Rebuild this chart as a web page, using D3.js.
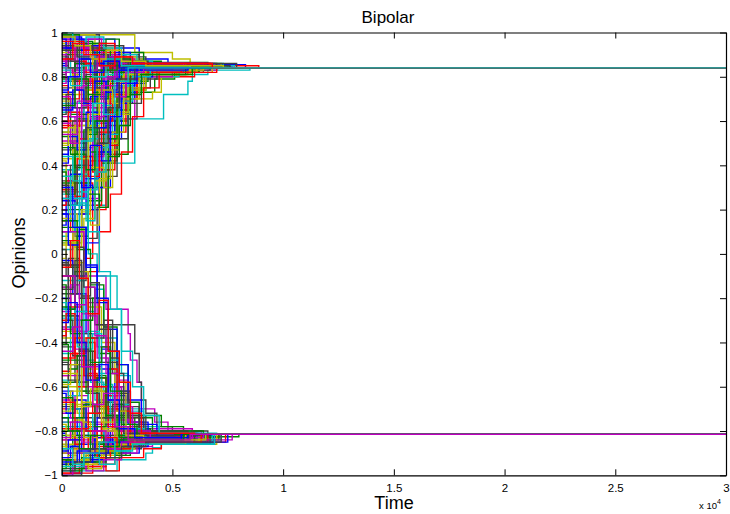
<!DOCTYPE html>
<html>
<head>
<meta charset="utf-8">
<script src="https://cdn.jsdelivr.net/npm/d3@7"></script>
<style>
  html, body { margin: 0; padding: 0; background: #fff; }
  svg { display: block; font-family: "Liberation Sans", Arial, Helvetica, sans-serif; }
</style>
</head>
<body>
<svg id="chart" width="730" height="514"></svg>
<script>
// Opinion trajectories of the agents (bounded-confidence "Bipolar" run).
// Each agent: [initial opinion, t1, v1, t2, v2, ..., tJoin]
// times are in hundreds of steps; at tJoin the agent settles on its cluster value.
const upperConsensus = 0.84;
const lowerConsensus = -0.815;
const timeEnd = 30000;
const timeUnit = 100;

const upperAgents = [
  [0.97, 24, 0.93, 35, 0.88, 48, 0.855, 83],
  [0.55, 4, 0.68, 11, 0.78, 19, 0.82, 30, 0.86, 62],
  [0.9, 10, 0.86, 40, 0.85, 89],
  [0.05, 8, 0.22, 20, 0.41, 33, 0.61, 46, 0.72, 57, 0.78, 59, 0.81, 66, 0.83, 85],
  [0.62, 6, 0.48, 14, 0.66, 22, 0.8, 31, 0.83, 70],
  [0.99, 33, 0.91, 50, 0.88, 58, 0.86, 72],
  [0.3, 5, 0.5, 12, 0.6, 28, 0.61, 34, 0.75, 40, 0.82, 64],
  [0.85, 3, 0.92, 9, 0.88, 18, 0.8, 27, 0.83, 58],
  [0.2, 15, 0.45, 30, 0.73, 42, 0.79, 51, 0.82, 62],
  [0.15, 6, 0.32, 14, 0.22, 18, 0.5, 26, 0.7, 34, 0.8, 60],
  [0.95, 7, 0.9, 16, 0.87, 26, 0.85, 55],
  [0.4, 10, 0.25, 17, 0.5, 22, 0.61, 33, 0.74, 37, 0.82, 61],
  [0.35, 12, 0.52, 25, 0.7, 41, 0.73, 45, 0.8, 52, 0.82, 68],
  [0.75, 5, 0.82, 13, 0.86, 24, 0.84, 52],
  [0.45, 3, 0.62, 9, 0.4, 14, 0.68, 20, 0.78, 30, 0.83, 57],
  [0.92, 12, 0.95, 20, 0.89, 29, 0.86, 40, 0.865, 66],
  [0.1, 4, 0.28, 9, 0.18, 13, 0.42, 20, 0.58, 25, 0.75, 34, 0.82, 59],
  [0.68, 8, 0.77, 15, 0.9, 21, 0.86, 33, 0.85, 74],
  [0.88, 6, 0.79, 11, 0.93, 19, 0.87, 30, 0.84, 56],
  [0.5, 7, 0.35, 11, 0.6, 17, 0.72, 26, 0.84, 48],
  [0.98, 4, 0.94, 14, 0.9, 22, 0.86, 63],
  [0.25, 10, 0.55, 18, 0.38, 22, 0.63, 29, 0.77, 38, 0.83, 58],
  [0.8, 9, 0.7, 16, 0.83, 24, 0.88, 32, 0.85, 70],
  [0.6, 12, 0.74, 20, 0.66, 27, 0.79, 35, 0.84, 66],
  [0.02, 5, 0.12, 12, 0.3, 19, 0.46, 23, 0.65, 28, 0.8, 53],
  [0.94, 3, 0.84, 10, 0.9, 18, 0.87, 27, 0.845, 77],
  [0.72, 14, 0.8, 25, 0.88, 37, 0.86, 64],
  [0.33, 6, 0.47, 13, 0.62, 21, 0.55, 26, 0.72, 32, 0.83, 55],
  [0.86, 2, 0.96, 11, 0.92, 19, 0.88, 28, 0.85, 69],
  [-0.1, 7, 0.08, 12, 0.24, 18, 0.41, 24, 0.6, 30, 0.74, 38, 0.82, 62],
  [0.58, 9, 0.7, 17, 0.82, 28, 0.86, 57],
  [0.78, 4, 0.89, 12, 0.83, 20, 0.9, 29, 0.86, 73],
  [0.2, 3, 0.38, 8, 0.52, 14, 0.44, 19, 0.68, 25, 0.8, 50],
  [0.91, 15, 0.87, 24, 0.83, 33, 0.85, 63],
  [0.47, 5, 0.6, 10, 0.75, 18, 0.85, 52],
  [0.66, 7, 0.55, 13, 0.71, 21, 0.79, 27, 0.83, 55],
  [0.12, 9, 0.3, 16, 0.5, 21, 0.42, 25, 0.65, 31, 0.78, 39, 0.83, 60],
  [0.84, 5, 0.78, 14, 0.88, 23, 0.85, 65],
  [0.38, 8, 0.58, 15, 0.7, 23, 0.84, 47],
  [0.97, 9, 0.9, 18, 0.84, 25, 0.87, 36, 0.85, 71],
  [0.55, 14, 0.72, 22, 0.81, 33, 0.84, 58],
  [0.28, 4, 0.4, 11, 0.34, 16, 0.57, 22, 0.73, 29, 0.83, 54],
  [0.73, 6, 0.86, 16, 0.8, 24, 0.85, 61],
  [0.9, 8, 0.96, 14, 0.91, 24, 0.87, 37, 0.85, 76],
  [-0.05, 5, 0.1, 10, -0.02, 14, 0.2, 20, 0.38, 24, 0.55, 29, 0.72, 34, 0.81, 57],
  [0.64, 10, 0.76, 18, 0.87, 28, 0.84, 68],
  [0.82, 7, 0.74, 15, 0.82, 22, 0.89, 31, 0.86, 65],
  [0.43, 6, 0.58, 12, 0.74, 20, 0.69, 25, 0.81, 34, 0.84, 56],
  [0.99, 17, 0.94, 28, 0.89, 38, 0.86, 79],
  [0.18, 11, 0.34, 17, 0.54, 24, 0.68, 32, 0.82, 55],
  [0.7, 4, 0.63, 12, 0.77, 19, 0.84, 49],
  [0.87, 11, 0.82, 18, 0.91, 26, 0.86, 67],
  [0.08, 3, 0.26, 9, 0.44, 15, 0.64, 22, 0.76, 29, 0.84, 53],
  [0.51, 8, 0.66, 16, 0.59, 22, 0.76, 30, 0.84, 59],
  [0.95, 5, 0.99, 15, 0.93, 23, 0.89, 34, 0.85, 74],
  [0.6, 3, 0.78, 10, 0.86, 20, 0.84, 51],
  [-0.25, 6, -0.1, 11, 0.05, 17, 0.3, 22, 0.52, 27, 0.7, 33, 0.8, 41, 0.83, 62],
  [0.32, 13, 0.46, 19, 0.64, 26, 0.78, 35, 0.83, 58],
  [0.93, 6, 0.86, 13, 0.82, 21, 0.86, 30, 0.84, 63],
  [0.22, 7, 0.4, 12, 0.56, 17, 0.72, 23, 0.81, 32, 0.84, 56],
  [0.96, 3, 0.91, 7, 0.95, 12, 0.89, 18, 0.92, 26, 0.87, 35, 0.85, 68],
  [0.42, 2, 0.31, 5, 0.47, 9, 0.36, 13, 0.58, 17, 0.49, 21, 0.71, 27, 0.8, 36, 0.83, 58],
  [0.81, 2, 0.88, 6, 0.83, 10, 0.77, 15, 0.86, 22, 0.82, 31, 0.85, 61],
  [0.13, 2, 0.24, 6, 0.08, 9, 0.31, 14, 0.2, 17, 0.46, 22, 0.61, 27, 0.76, 33, 0.83, 57],
  [0.99, 8, 0.95, 20, 0.97, 26, 0.91, 37, 0.87, 45, 0.85, 75],
  [0.57, 3, 0.64, 8, 0.52, 12, 0.69, 17, 0.6, 22, 0.77, 28, 0.85, 54],
  [0.27, 4, 0.15, 8, 0.36, 12, 0.29, 16, 0.48, 21, 0.66, 26, 0.58, 30, 0.78, 36, 0.83, 59],
  [0.9, 2, 0.83, 7, 0.9, 11, 0.94, 16, 0.88, 23, 0.84, 30, 0.86, 64],
  [0.69, 5, 0.81, 9, 0.74, 14, 0.89, 20, 0.83, 27, 0.86, 56],
  [-0.15, 3, -0.02, 8, -0.12, 11, 0.07, 16, 0.21, 21, 0.35, 25, 0.52, 30, 0.68, 36, 0.79, 43, 0.83, 67],
  [0.93, 4, 0.98, 9, 0.92, 15, 0.86, 21, 0.9, 28, 0.87, 36, 0.845, 72],
  [0.48, 6, 0.39, 10, 0.56, 14, 0.73, 19, 0.65, 23, 0.82, 31, 0.85, 60],
  [0.76, 3, 0.7, 8, 0.79, 14, 0.72, 19, 0.84, 26, 0.87, 34, 0.85, 63],
  [0.35, 5, 0.44, 9, 0.28, 12, 0.52, 18, 0.67, 23, 0.61, 27, 0.76, 32, 0.84, 55],
  [0.87, 6, 0.93, 12, 0.97, 18, 0.9, 25, 0.88, 33, 0.86, 69],
  [0.04, 3, 0.18, 7, -0.04, 10, 0.16, 15, 0.33, 20, 0.5, 25, 0.64, 30, 0.75, 37, 0.82, 61],
  [0.63, 2, 0.72, 6, 0.66, 11, 0.81, 16, 0.75, 21, 0.86, 28, 0.84, 58],
  [0.97, 2, 0.93, 5, 0.97, 10, 0.94, 17, 0.89, 24, 0.91, 31, 0.86, 66],
  [0.53, 4, 0.45, 7, 0.61, 12, 0.54, 16, 0.7, 21, 0.79, 27, 0.84, 52],
  [0.22, 2, 0.33, 6, 0.26, 10, 0.44, 14, 0.37, 18, 0.6, 23, 0.72, 29, 0.82, 54],
  [0.84, 8, 0.9, 15, 0.85, 21, 0.81, 29, 0.84, 57],
  [0.71, 4, 0.62, 9, 0.76, 13, 0.85, 18, 0.79, 24, 0.86, 33, 0.84, 62],
  [0.16, 5, 0.05, 9, 0.2, 13, 0.39, 19, 0.3, 23, 0.55, 28, 0.7, 35, 0.81, 58],
  [0.94, 7, 0.89, 13, 0.93, 20, 0.88, 27, 0.9, 35, 0.86, 70],
  [0.41, 3, 0.53, 7, 0.47, 11, 0.64, 16, 0.57, 20, 0.74, 25, 0.83, 50],
  [0.79, 6, 0.86, 10, 0.8, 16, 0.92, 22, 0.87, 29, 0.85, 65],
  [0.29, 7, 0.43, 12, 0.35, 17, 0.55, 22, 0.49, 26, 0.69, 31, 0.8, 38, 0.84, 62],
  [1.0, 5, 0.96, 11, 0.98, 19, 0.93, 27, 0.9, 34, 0.87, 41, 0.85, 78],
  [0.59, 4, 0.5, 9, 0.67, 14, 0.62, 19, 0.8, 25, 0.87, 33, 0.85, 60],
  [-0.02, 2, 0.1, 6, 0.03, 9, 0.19, 13, 0.13, 17, 0.34, 22, 0.47, 26, 0.63, 31, 0.74, 38, 0.83, 64],
  [0.89, 3, 0.84, 9, 0.88, 15, 0.83, 23, 0.86, 53],
  [0.65, 5, 0.74, 10, 0.68, 15, 0.78, 20, 0.73, 26, 0.83, 34, 0.85, 61],
  [0.37, 2, 0.27, 6, 0.45, 11, 0.38, 15, 0.6, 21, 0.52, 25, 0.71, 31, 0.81, 56],
  [0.96, 10, 0.92, 17, 0.95, 24, 0.89, 31, 0.86, 67],
  [0.1, 6, 0.23, 11, 0.15, 15, 0.37, 20, 0.54, 26, 0.69, 32, 0.8, 40, 0.84, 63],
  [0.77, 2, 0.82, 6, 0.75, 10, 0.83, 16, 0.89, 24, 0.86, 55],
  [0.49, 3, 0.57, 8, 0.43, 12, 0.63, 17, 0.74, 23, 0.68, 28, 0.81, 35, 0.84, 59],
  [0.92, 4, 0.87, 8, 0.94, 14, 0.9, 21, 0.85, 30, 0.87, 39, 0.85, 76],
  [0.24, 4, 0.36, 9, 0.3, 13, 0.49, 18, 0.42, 22, 0.62, 27, 0.77, 34, 0.83, 57],
  [0.67, 6, 0.79, 12, 0.72, 18, 0.83, 25, 0.88, 31, 0.85, 62],
  [-0.3, 4, -0.18, 9, -0.26, 12, -0.08, 17, 0.1, 22, 0.27, 27, 0.46, 32, 0.62, 37, 0.75, 44, 0.82, 70],
  [0.83, 4, 0.76, 9, 0.85, 14, 0.8, 20, 0.88, 27, 0.85, 58],
  [0.54, 7, 0.69, 13, 0.61, 18, 0.76, 24, 0.71, 29, 0.82, 37, 0.84, 64],
  [0.98, 6, 0.94, 13, 0.88, 20, 0.92, 27, 0.87, 38, 0.85, 73],
  [0.31, 3, 0.22, 7, 0.4, 11, 0.57, 17, 0.5, 21, 0.66, 26, 0.79, 33, 0.84, 56],
  [0.74, 3, 0.8, 8, 0.88, 13, 0.82, 19, 0.87, 26, 0.84, 54],
  [0.06, 4, -0.06, 8, 0.11, 12, 0.27, 17, 0.21, 21, 0.44, 26, 0.58, 31, 0.72, 36, 0.81, 59],
  [0.88, 5, 0.95, 10, 0.9, 17, 0.85, 24, 0.89, 32, 0.86, 68],
  [0.44, 5, 0.33, 9, 0.51, 14, 0.68, 19, 0.63, 24, 0.78, 30, 0.84, 57]
];

const lowerAgents = [
  [0.1, 10, -0.1, 20, -0.25, 30, -0.36, 31, -0.48, 34, -0.58, 36, -0.7, 42, -0.76, 48, -0.8, 63],
  [-0.6, 7, -0.72, 15, -0.8, 26, -0.86, 34, -0.83, 62],
  [-0.05, 8, -0.2, 17, -0.32, 33, -0.45, 35, -0.58, 36, -0.66, 38, -0.72, 43, -0.78, 50, -0.8, 66],
  [-0.9, 8, -0.86, 20, -0.84, 35, -0.826, 68],
  [-0.4, 10, -0.55, 20, -0.66, 30, -0.73, 45, -0.78, 55, -0.826, 80],
  [-0.7, 9, -0.78, 18, -0.83, 30, -0.848, 58],
  [-0.98, 25, -0.93, 38, -0.9, 41, -0.875, 45, -0.85, 52, -0.83, 64],
  [-0.15, 6, -0.3, 12, -0.22, 16, -0.42, 22, -0.6, 28, -0.72, 35, -0.79, 59],
  [-0.95, 10, -0.9, 22, -0.87, 33, -0.84, 61],
  [-0.5, 8, -0.62, 16, -0.74, 24, -0.8, 52],
  [-0.2, 4, -0.35, 10, -0.5, 18, -0.43, 22, -0.64, 29, -0.76, 37, -0.82, 63],
  [-0.8, 5, -0.9, 13, -0.94, 20, -0.88, 30, -0.85, 60],
  [-0.99, 14, -0.95, 24, -0.9, 31, -0.86, 40, -0.83, 71],
  [0.25, 12, 0.0, 16, -0.1, 25, -0.25, 27, -0.54, 30, -0.7, 36, -0.78, 44, -0.81, 60],
  [-0.72, 6, -0.64, 12, -0.76, 19, -0.84, 28, -0.82, 54],
  [-0.35, 9, -0.5, 14, -0.62, 21, -0.75, 28, -0.84, 37, -0.83, 66],
  [-0.88, 3, -0.95, 11, -0.91, 19, -0.86, 29, -0.83, 57],
  [-0.03, 5, -0.18, 11, -0.36, 17, -0.52, 24, -0.68, 30, -0.77, 37, -0.82, 62],
  [-0.58, 12, -0.68, 20, -0.73, 31, -0.79, 40, -0.84, 70],
  [-0.93, 6, -0.97, 12, -0.92, 20, -0.87, 30, -0.84, 61],
  [-0.45, 4, -0.3, 9, -0.48, 15, -0.66, 22, -0.78, 30, -0.83, 55],
  [-0.76, 9, -0.83, 18, -0.78, 26, -0.85, 36, -0.83, 67],
  [0.05, 6, -0.08, 12, -0.24, 18, -0.4, 24, -0.58, 29, -0.74, 36, -0.81, 60],
  [-0.97, 18, -0.92, 27, -0.88, 36, -0.85, 65],
  [-0.62, 5, -0.7, 11, -0.8, 19, -0.89, 26, -0.85, 56],
  [-0.28, 8, -0.44, 15, -0.56, 21, -0.71, 27, -0.73, 35, -0.8, 42, -0.83, 69],
  [-0.84, 4, -0.79, 10, -0.88, 17, -0.92, 24, -0.87, 33, -0.84, 63],
  [-0.12, 10, -0.26, 15, -0.16, 19, -0.38, 25, -0.55, 31, -0.71, 37, -0.8, 58],
  [-0.9, 7, -0.84, 14, -0.9, 23, -0.86, 35, -0.83, 66],
  [-0.68, 11, -0.77, 20, -0.87, 28, -0.84, 55],
  [-0.42, 6, -0.58, 12, -0.5, 17, -0.67, 24, -0.79, 33, -0.83, 61],
  [-0.95, 4, -0.99, 9, -0.94, 17, -0.89, 28, -0.86, 58],
  [0.15, 7, 0.02, 13, -0.14, 19, -0.33, 25, -0.5, 30, -0.67, 35, -0.74, 41, -0.8, 64],
  [-0.55, 3, -0.66, 9, -0.78, 16, -0.87, 24, -0.83, 52],
  [-0.78, 12, -0.86, 22, -0.9, 30, -0.86, 40, -0.84, 72],
  [-0.33, 5, -0.46, 10, -0.6, 16, -0.72, 23, -0.82, 49],
  [-0.86, 9, -0.93, 19, -0.88, 28, -0.85, 62],
  [-0.18, 3, -0.28, 8, -0.44, 14, -0.62, 20, -0.74, 27, -0.82, 53],
  [-0.74, 7, -0.82, 15, -0.91, 22, -0.87, 32, -0.84, 64],
  [-0.48, 9, -0.62, 17, -0.7, 26, -0.82, 34, -0.85, 59],
  [-0.92, 5, -0.88, 12, -0.83, 20, -0.86, 30, -0.84, 57],
  [-0.25, 6, -0.4, 13, -0.58, 19, -0.7, 26, -0.79, 34, -0.83, 61],
  [-0.66, 4, -0.74, 10, -0.69, 15, -0.8, 22, -0.86, 30, -0.83, 58],
  [-0.38, 12, -0.52, 18, -0.66, 24, -0.78, 30, -0.82, 56],
  [-1.0, 9, -0.96, 20, -0.91, 29, -0.87, 37, -0.84, 69],
  [0.3, 5, 0.12, 11, -0.05, 16, -0.22, 21, -0.44, 26, -0.62, 31, -0.76, 39, -0.81, 62],
  [-0.82, 14, -0.88, 24, -0.84, 33, -0.83, 66],
  [-0.1, 4, -0.24, 9, -0.4, 15, -0.56, 20, -0.7, 26, -0.8, 34, -0.83, 59],
  [-0.87, 6, -0.8, 13, -0.85, 21, -0.88, 29, -0.85, 63],
  [-0.55, 9, -0.68, 15, -0.77, 24, -0.83, 32, -0.82, 60],
  [-0.96, 3, -0.91, 7, -0.95, 12, -0.89, 18, -0.92, 26, -0.87, 35, -0.84, 68],
  [-0.41, 2, -0.3, 5, -0.46, 9, -0.36, 13, -0.57, 17, -0.49, 21, -0.69, 27, -0.78, 36, -0.82, 59],
  [-0.81, 2, -0.87, 6, -0.83, 10, -0.76, 15, -0.85, 22, -0.8, 31, -0.83, 62],
  [-0.14, 2, -0.25, 6, -0.08, 9, -0.3, 14, -0.2, 17, -0.45, 22, -0.6, 27, -0.74, 33, -0.81, 56],
  [-0.99, 8, -0.96, 20, -0.98, 26, -0.92, 37, -0.88, 45, -0.85, 74],
  [-0.57, 3, -0.64, 8, -0.51, 12, -0.68, 17, -0.6, 22, -0.76, 28, -0.84, 55],
  [-0.26, 4, -0.14, 8, -0.35, 12, -0.28, 16, -0.47, 21, -0.64, 26, -0.57, 30, -0.76, 36, -0.82, 61],
  [-0.9, 2, -0.83, 7, -0.9, 11, -0.95, 16, -0.89, 23, -0.85, 30, -0.84, 64],
  [-0.69, 5, -0.8, 9, -0.74, 14, -0.88, 20, -0.82, 27, -0.85, 57],
  [0.18, 3, 0.04, 8, 0.12, 11, -0.06, 16, -0.2, 21, -0.34, 25, -0.5, 30, -0.66, 36, -0.77, 43, -0.82, 68],
  [-0.93, 4, -0.98, 9, -0.92, 15, -0.86, 21, -0.9, 28, -0.87, 36, -0.84, 71],
  [-0.47, 6, -0.38, 10, -0.55, 14, -0.72, 19, -0.64, 23, -0.8, 31, -0.84, 58],
  [-0.76, 3, -0.7, 8, -0.79, 14, -0.72, 19, -0.83, 26, -0.86, 34, -0.84, 65],
  [-0.34, 5, -0.43, 9, -0.27, 12, -0.51, 18, -0.66, 23, -0.6, 27, -0.75, 32, -0.83, 56],
  [-0.87, 6, -0.93, 12, -0.97, 18, -0.91, 25, -0.88, 33, -0.86, 70],
  [-0.04, 3, -0.18, 7, 0.03, 10, -0.15, 15, -0.32, 20, -0.49, 25, -0.63, 30, -0.74, 37, -0.81, 61],
  [-0.63, 2, -0.72, 6, -0.66, 11, -0.8, 16, -0.74, 21, -0.85, 28, -0.83, 59],
  [-0.97, 2, -0.93, 5, -0.97, 10, -0.94, 17, -0.89, 24, -0.91, 31, -0.86, 67],
  [-0.53, 4, -0.45, 7, -0.6, 12, -0.54, 16, -0.69, 21, -0.78, 27, -0.83, 53],
  [-0.22, 2, -0.33, 6, -0.26, 10, -0.43, 14, -0.36, 18, -0.59, 23, -0.71, 29, -0.81, 55],
  [-0.84, 8, -0.9, 15, -0.85, 21, -0.8, 29, -0.83, 60],
  [-0.71, 4, -0.62, 9, -0.76, 13, -0.85, 18, -0.79, 24, -0.86, 33, -0.84, 63],
  [-0.16, 5, -0.05, 9, -0.2, 13, -0.38, 19, -0.3, 23, -0.54, 28, -0.69, 35, -0.8, 57],
  [-0.94, 7, -0.89, 13, -0.93, 20, -0.88, 27, -0.9, 35, -0.86, 69],
  [-0.41, 3, -0.52, 7, -0.46, 11, -0.63, 16, -0.56, 20, -0.73, 25, -0.82, 51],
  [-0.79, 6, -0.86, 10, -0.8, 16, -0.92, 22, -0.87, 29, -0.85, 66],
  [-0.29, 7, -0.42, 12, -0.35, 17, -0.54, 22, -0.48, 26, -0.68, 31, -0.79, 38, -0.83, 63],
  [-1.0, 5, -0.96, 11, -0.98, 19, -0.93, 27, -0.9, 34, -0.87, 41, -0.84, 77],
  [-0.59, 4, -0.5, 9, -0.67, 14, -0.62, 19, -0.8, 25, -0.87, 33, -0.85, 62],
  [0.02, 2, -0.1, 6, -0.03, 9, -0.19, 13, -0.13, 17, -0.34, 22, -0.47, 26, -0.62, 31, -0.73, 38, -0.82, 65],
  [-0.89, 3, -0.84, 9, -0.88, 15, -0.83, 23, -0.86, 54],
  [-0.65, 5, -0.74, 10, -0.68, 15, -0.78, 20, -0.73, 26, -0.83, 34, -0.85, 60],
  [-0.37, 2, -0.27, 6, -0.45, 11, -0.38, 15, -0.6, 21, -0.52, 25, -0.71, 31, -0.81, 57],
  [-0.96, 10, -0.92, 17, -0.95, 24, -0.89, 31, -0.86, 68],
  [-0.1, 6, -0.23, 11, -0.15, 15, -0.37, 20, -0.54, 26, -0.69, 32, -0.8, 40, -0.83, 64],
  [-0.77, 2, -0.82, 6, -0.75, 10, -0.83, 16, -0.89, 24, -0.86, 56],
  [-0.49, 3, -0.57, 8, -0.43, 12, -0.63, 17, -0.74, 23, -0.68, 28, -0.81, 35, -0.84, 60],
  [-0.92, 4, -0.87, 8, -0.94, 14, -0.9, 21, -0.85, 30, -0.87, 39, -0.85, 75],
  [-0.24, 4, -0.36, 9, -0.3, 13, -0.49, 18, -0.42, 22, -0.62, 27, -0.77, 34, -0.83, 58],
  [-0.67, 6, -0.79, 12, -0.72, 18, -0.83, 25, -0.88, 31, -0.85, 63],
  [0.35, 4, 0.22, 9, 0.28, 12, 0.1, 17, -0.08, 22, -0.25, 27, -0.44, 32, -0.6, 37, -0.73, 44, -0.81, 70],
  [-0.83, 4, -0.76, 9, -0.85, 14, -0.8, 20, -0.88, 27, -0.85, 59],
  [-0.54, 7, -0.69, 13, -0.61, 18, -0.76, 24, -0.71, 29, -0.82, 37, -0.84, 65],
  [-0.98, 6, -0.94, 13, -0.88, 20, -0.92, 27, -0.87, 38, -0.85, 72],
  [-0.31, 3, -0.22, 7, -0.4, 11, -0.57, 17, -0.5, 21, -0.66, 26, -0.79, 33, -0.83, 57],
  [-0.74, 3, -0.8, 8, -0.88, 13, -0.82, 19, -0.87, 26, -0.84, 55],
  [-0.06, 4, 0.06, 8, -0.11, 12, -0.27, 17, -0.21, 21, -0.44, 26, -0.58, 31, -0.72, 36, -0.81, 60],
  [-0.88, 5, -0.95, 10, -0.9, 17, -0.85, 24, -0.89, 32, -0.86, 69],
  [-0.44, 5, -0.33, 9, -0.51, 14, -0.68, 19, -0.63, 24, -0.78, 30, -0.84, 58]
];

const xTicks = [0, 5000, 10000, 15000, 20000, 25000, 30000];
const xTickLabels = ["0", "0.5", "1", "1.5", "2", "2.5", "3"];
const yTicks = [-1, -0.8, -0.6, -0.4, -0.2, 0, 0.2, 0.4, 0.6, 0.8, 1];
const yTickLabels = ["\u22121", "\u22120.8", "\u22120.6", "\u22120.4", "\u22120.2", "0", "0.2", "0.4", "0.6", "0.8", "1"];

// classic line colour order
const lineColors = ["#0000ff", "#008000", "#ff0000", "#00bfbf", "#bf00bf", "#bfbf00", "#404040"];

const svg = d3.select("#chart");
const W = 730, H = 514;
const margin = { left: 61.7, right: W - 726, top: 32.5, bottom: H - 475.3 };
const x = d3.scaleLinear().domain([0, timeEnd]).range([margin.left, W - margin.right]);
const y = d3.scaleLinear().domain([-1, 1]).range([H - margin.bottom, margin.top]);

svg.append("rect").attr("width", W).attr("height", H).attr("fill", "#fff");

// expand an agent record into step points, holding the cluster value to the end
function toPath(agent, consensus) {
  const pts = [[0, agent[0]]];
  const last = agent.length - 1;
  const tJoin = agent[last];
  for (let k = 1; k < last; k += 2) {
    pts.push([agent[k] * timeUnit, agent[k + 1]]);
  }
  pts.push([tJoin * timeUnit, consensus]);
  pts.push([timeEnd, consensus]);
  return pts;
}

const series = upperAgents.map(a => toPath(a, upperConsensus))
  .concat(lowerAgents.map(a => toPath(a, lowerConsensus)));

const line = d3.line()
  .x(d => x(d[0]))
  .y(d => y(d[1]))
  .curve(d3.curveStepAfter);

const plot = svg.append("g");
plot.append("clipPath").attr("id", "clip")
  .append("rect")
  .attr("x", margin.left).attr("y", margin.top)
  .attr("width", x(timeEnd) - margin.left)
  .attr("height", y(-1) - margin.top);

plot.append("g").attr("clip-path", "url(#clip)")
  .selectAll("path")
  .data(series)
  .join("path")
  .attr("d", line)
  .attr("fill", "none")
  .attr("stroke", (d, i) => lineColors[i % lineColors.length])
  .attr("stroke-width", 1.4);

// box axes with inward ticks
const tickLen = 6;
const axisG = svg.append("g");
const bottomAxis = d3.axisBottom(x).tickValues(xTicks).tickSizeInner(-tickLen).tickSizeOuter(0)
  .tickPadding(9).tickFormat((d, i) => xTickLabels[i]);
const topAxis = d3.axisTop(x).tickValues(xTicks).tickSizeInner(-tickLen).tickSizeOuter(0).tickFormat("");
const leftAxis = d3.axisLeft(y).tickValues(yTicks).tickSizeInner(-tickLen).tickSizeOuter(0)
  .tickPadding(4).tickFormat((d, i) => yTickLabels[i]);
const rightAxis = d3.axisRight(y).tickValues(yTicks).tickSizeInner(-tickLen).tickSizeOuter(0).tickFormat("");

axisG.append("g").attr("transform", `translate(0,${y(-1)})`).call(bottomAxis);
axisG.append("g").attr("transform", `translate(0,${y(1)})`).call(topAxis);
axisG.append("g").attr("transform", `translate(${x(0)},0)`).call(leftAxis);
axisG.append("g").attr("transform", `translate(${x(timeEnd)},0)`).call(rightAxis);

axisG.selectAll(".domain").attr("stroke", "#000").attr("stroke-width", 1.2);
axisG.selectAll(".tick line").attr("stroke", "#000").attr("stroke-width", 1);
axisG.selectAll(".tick text")
  .attr("fill", "#000")
  .style("font-size", "11.5px")
  .style("font-family", "'Liberation Sans', Arial, Helvetica, sans-serif");

// titles
svg.append("text")
  .attr("x", 388).attr("y", 23)
  .attr("text-anchor", "middle")
  .style("font-size", "17px")
  .text("Bipolar");

svg.append("text")
  .attr("x", 394).attr("y", 509)
  .attr("text-anchor", "middle")
  .style("font-size", "18px")
  .text("Time");

svg.append("text")
  .attr("transform", "translate(25,253) rotate(-90)")
  .attr("text-anchor", "middle")
  .style("font-size", "18px")
  .text("Opinions");

const exp = svg.append("text")
  .attr("x", 699).attr("y", 509)
  .style("font-size", "9.5px");
exp.append("tspan").text("x 10");
exp.append("tspan").attr("dy", -5).style("font-size", "7px").text("4");
</script>
</body>
</html>
